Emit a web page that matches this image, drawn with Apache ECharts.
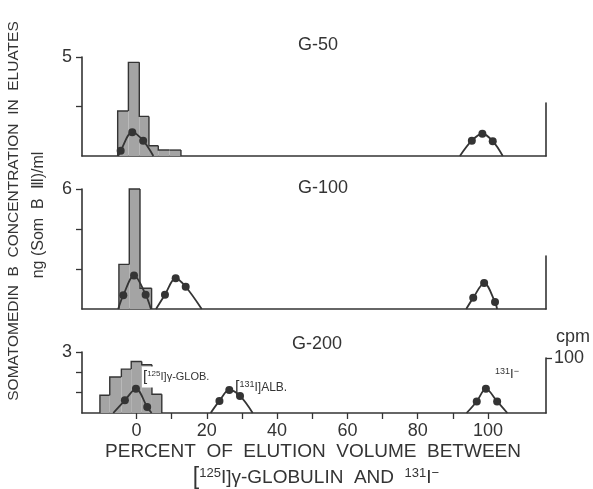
<!DOCTYPE html>
<html>
<head>
<meta charset="utf-8">
<script src="https://cdn.jsdelivr.net/npm/echarts@6/dist/echarts.min.js"></script>
<style>
  html, body { margin: 0; padding: 0; background: #fff; }
  #chart { width: 593px; height: 489px; }
</style>
</head>
<body>
<div id="chart"></div>
<script>
// Elution volume axis (% between [125I]γ-globulin and 131I-)
const xMin = -15.5, xMax = 116.5;
const xTickValues = [0, 10, 20, 30, 40, 50, 60, 70, 80, 90, 100];
const xLabelValues = [0, 20, 40, 60, 80, 100];

// G-50: Som B concentration per fraction (bin edges in %), and cpm peaks
const g50BinEdges = [-5.35, -2.3, 0.8, 3.55, 6.2, 9.4, 12.65];
const g50SomB = [2.27, 4.73, 2.0, 0.52, 0.3, 0.3];
const g50GlobX = [-5.2, -4.5, -1.2, 1.9, 4.8];
const g50GlobCpm = [0, 10, 45, 29, 0];
const g50IodX = [92.0, 95.4, 98.4, 101.35, 104.2];
const g50IodCpm = [0, 29, 42, 28, 0];

// G-100
const g100BinEdges = [-5.0, -2.05, 1.0, 4.3];
const g100SomB = [2.23, 6.0, 1.04];
const g100GlobX = [-5.2, -3.75, -0.7, 2.6, 4.1];
const g100GlobCpm = [0, 26, 63, 27, 0];
const g100AlbX = [5.55, 8.1, 11.15, 14.0, 18.55];
const g100AlbCpm = [0, 27, 58, 42, 0];
const g100IodX = [93.8, 95.8, 98.9, 102.0, 102.6];
const g100IodCpm = [0, 21, 49, 13, 0];

// G-200
const g200BinEdges = [-10.4, -7.6, -4.3, -1.5, 1.5, 4.4, 7.2];
const g200SomB = [0.87, 1.77, 2.16, 2.53, 2.37, 0.92];
const g200GlobX = [-6.6, -3.3, -0.15, 3.05, 4.3];
const g200GlobCpm = [0, 23, 44, 11, 0];
const g200AlbX = [21.1, 23.6, 26.4, 29.45, 33.05];
const g200AlbCpm = [0, 22, 42, 31, 0];
const g200IodX = [93.9, 96.8, 99.4, 102.6, 105.5];
const g200IodCpm = [0, 21, 44, 21, 0];

// Left axis (ng/ml) ticks per panel
const g50Ticks = [2.5, 5];
const g100Ticks = [2, 4, 6];
const g200Ticks = [1, 2, 3];

const INK = '#343434';
const FONT = '"Liberation Sans", Arial, sans-serif';

const chart = echarts.init(document.getElementById('chart'), null, { renderer: 'canvas' });

// Panel layout: ng/ml grid and a shorter cpm grid sharing the same x range
const panels = [
  { ng: { top: 57, height: 99 },  cpm: { top: 103, height: 53 }, max: 5, ticks: g50Ticks },
  { ng: { top: 189, height: 120 }, cpm: { top: 256, height: 53 }, max: 6, ticks: g100Ticks },
  { ng: { top: 352, height: 61 },  cpm: { top: 358, height: 55 }, max: 3, ticks: g200Ticks }
];

const grids = [], xAxes = [], yAxes = [];
panels.forEach((p, k) => {
  const last = k === panels.length - 1;
  grids.push({ left: 82, width: 464, top: p.ng.top, height: p.ng.height });
  grids.push({ left: 82, width: 464, top: p.cpm.top, height: p.cpm.height });
  xAxes.push({
    type: 'value', gridIndex: 2 * k, min: xMin, max: xMax,
    axisLine: { show: true, onZero: false, lineStyle: { color: INK, width: 1.6 } },
    axisTick: last ? { show: true, length: 6, customValues: xTickValues, lineStyle: { color: INK, width: 1.3 } } : { show: false },
    axisLabel: last ? { show: true, customValues: xLabelValues, margin: 9, color: INK, fontSize: 18, fontFamily: FONT } : { show: false },
    splitLine: { show: false }
  });
  xAxes.push({ type: 'value', gridIndex: 2 * k + 1, min: xMin, max: xMax, show: false });
  yAxes.push({
    type: 'value', gridIndex: 2 * k, min: 0, max: p.max, position: 'left',
    axisLine: { show: true, onZero: false, lineStyle: { color: INK, width: 1.6 } },
    axisTick: { show: true, length: 6, customValues: p.ticks, lineStyle: { color: INK, width: 1.3 } },
    axisLabel: { show: true, customValues: [p.max], margin: 10, color: INK, fontSize: 18, fontFamily: FONT },
    splitLine: { show: false }
  });
  yAxes.push({
    type: 'value', gridIndex: 2 * k + 1, min: 0, max: 100, position: 'right',
    axisLine: { show: true, onZero: false, lineStyle: { color: INK, width: 1.6 } },
    axisTick: last ? { show: true, length: 6, customValues: [100], lineStyle: { color: INK, width: 1.3 } } : { show: false },
    axisLabel: last ? { show: true, customValues: [100], margin: 8, color: INK, fontSize: 18, fontFamily: FONT } : { show: false },
    splitLine: { show: false }
  });
});

// Stepped histogram of Som B concentration
function histSeries(axisIdx, edges, vals) {
  return {
    type: 'custom', xAxisIndex: axisIdx, yAxisIndex: axisIdx, z: 1,
    data: vals.map((v, i) => [edges[i], edges[i + 1], v]),
    encode: { x: [0, 1], y: 2 },
    renderItem(params, api) {
      const i = params.dataIndex;
      const x0 = api.value(0), x1 = api.value(1), v = api.value(2);
      const tl = api.coord([x0, v]);
      const br = api.coord([x1, 0]);
      const prevTop = api.coord([x0, i > 0 ? vals[i - 1] : 0]);
      const stroke = { stroke: INK, lineWidth: 1.4, fill: null };
      const children = [
        { type: 'rect', shape: { x: tl[0], y: tl[1], width: br[0] - tl[0], height: br[1] - tl[1] },
          style: { fill: '#a4a4a4' } },
        { type: 'polyline', shape: { points: [prevTop, tl, [br[0], tl[1]]] }, style: stroke }
      ];
      if (i === vals.length - 1) {
        children.push({ type: 'line', shape: { x1: br[0], y1: tl[1], x2: br[0], y2: br[1] }, style: stroke });
      }
      return { type: 'group', children };
    }
  };
}

// Radioactivity profile (cpm); first and last points sit on the baseline
function peakSeries(axisIdx, xs, ys) {
  return {
    type: 'line', xAxisIndex: axisIdx, yAxisIndex: axisIdx, z: 3,
    smooth: 0.35,
    data: xs.map((x, i) => ({
      value: [x, ys[i]],
      symbol: (i === 0 || i === xs.length - 1) ? 'none' : 'circle'
    })),
    symbolSize: 8,
    lineStyle: { color: INK, width: 1.8 },
    itemStyle: { color: INK },
    silent: true
  };
}

const series = [
  histSeries(0, g50BinEdges, g50SomB),
  peakSeries(1, g50GlobX, g50GlobCpm),
  peakSeries(1, g50IodX, g50IodCpm),
  histSeries(2, g100BinEdges, g100SomB),
  peakSeries(3, g100GlobX, g100GlobCpm),
  peakSeries(3, g100AlbX, g100AlbCpm),
  peakSeries(3, g100IodX, g100IodCpm),
  histSeries(4, g200BinEdges, g200SomB),
  peakSeries(5, g200GlobX, g200GlobCpm),
  peakSeries(5, g200AlbX, g200AlbCpm),
  peakSeries(5, g200IodX, g200IodCpm)
];

function txt(x, y, text, size, extra) {
  return {
    type: 'text', x, y, z: 10,
    style: Object.assign({ text, fontSize: size, fontFamily: FONT, fill: INK,
      align: 'center', verticalAlign: 'middle' }, extra || {})
  };
}

const supStyle = (s) => ({ fontSize: s, fontFamily: FONT, fill: INK, verticalAlign: 'top' });

const graphic = [
  txt(318, 45, 'G-50', 18),
  txt(323, 188, 'G-100', 18),
  txt(317, 344, 'G-200', 18),
  Object.assign(txt(14, 211, 'SOMATOMEDIN  B  CONCENTRATION  IN  ELUATES', 15.5), { rotation: Math.PI / 2 }),
  Object.assign(txt(39, 215, 'ng (Som  B  Ⅲ)/ml', 16), { rotation: Math.PI / 2 }),
  txt(313, 452, 'PERCENT  OF  ELUTION  VOLUME  BETWEEN', 19),
  txt(316, 478, '{b|[}{s|125}{t|I]γ-GLOBULIN  AND  }{s|131}{t|I}{s|−}', 19, {
    rich: {
      b: { fontSize: 23, fontFamily: FONT, fill: INK },
      s: supStyle(13),
      t: { fontSize: 19, fontFamily: FONT, fill: INK }
    }
  }),
  txt(573, 337, 'cpm', 18),
  txt(142, 377, '{b|[}{s|125}{t|I]γ-GLOB.}', 11, {
    align: 'left', backgroundColor: '#fff', padding: [3, 1, 3, 1],
    rich: {
      b: { fontSize: 15, fontFamily: FONT, fill: INK },
      s: supStyle(8),
      t: { fontSize: 11, fontFamily: FONT, fill: INK }
    }
  }),
  txt(235, 388, '{b|[}{s|131}{t|I]ALB.}', 12, {
    align: 'left',
    rich: {
      b: { fontSize: 16, fontFamily: FONT, fill: INK },
      s: supStyle(9),
      t: { fontSize: 12, fontFamily: FONT, fill: INK }
    }
  }),
  txt(495, 374, '{s|131}{t|I}{s|−}', 13, {
    align: 'left',
    rich: {
      s: supStyle(9),
      t: { fontSize: 13, fontFamily: FONT, fill: INK }
    }
  })
];

chart.setOption({
  animation: false,
  backgroundColor: '#fff',
  grid: grids,
  xAxis: xAxes,
  yAxis: yAxes,
  series,
  graphic
});
</script>
</body>
</html>
